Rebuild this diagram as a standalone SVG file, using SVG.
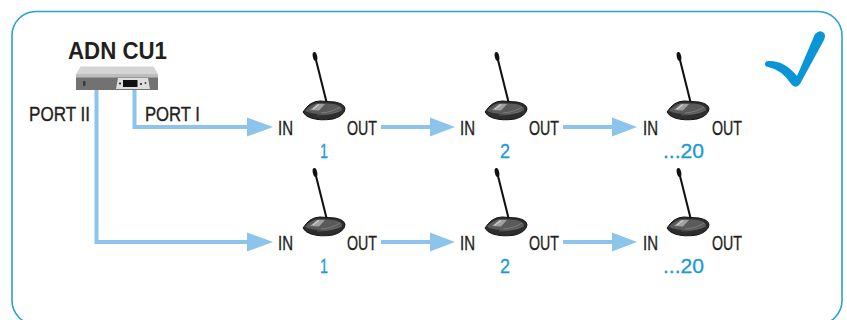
<svg xmlns="http://www.w3.org/2000/svg" xmlns:xlink="http://www.w3.org/1999/xlink" width="847" height="320" viewBox="0 0 847 320">
<style>
.lbl{font-family:"Liberation Sans",Arial,sans-serif;font-size:19.5px;fill:#231f20;stroke:#231f20;stroke-width:0.35}
.num{font-family:"Liberation Sans",Arial,sans-serif;font-size:20px;fill:#1b9ad7;stroke:#1b9ad7;stroke-width:0.3}
.title{font-family:"Liberation Sans",Arial,sans-serif;font-size:23px;font-weight:bold;fill:#231f20}
.wire{fill:none;stroke:#8cc4ec;stroke-width:4}
.head{fill:#8cc4ec}
</style>
<defs>
<g id="mic">
<line x1="0.5" y1="5" x2="12" y2="51" stroke="#111" stroke-width="2"/>
<ellipse cx="0" cy="3.5" rx="2.2" ry="4.6" transform="rotate(-12 0 3.5)" fill="#111"/>
<path d="M -12,59 Q -5,48 5,48 L 20,49 Q 30,51 30,56 Q 29,63 18,66 Q 5,68 -4,65 Q -10,63 -12,59 Z" fill="#2e2e2e" stroke="#111" stroke-width="1"/>
<path d="M -10,58 Q -4,50 5,50 L 19,51 Q 27,53 27,56 Q 24,60 14,61 Q 0,62 -10,58 Z" fill="#5a5a5a"/>
<polygon points="-5,57 2,51 10,51 4,57.5" fill="#a0a0a0"/>
<line x1="-2" y1="56" x2="4" y2="51.5" stroke="#eee" stroke-width="0.8"/>
<path d="M 6,60 Q 18,59 25,54" fill="none" stroke="#8a8a8a" stroke-width="0.7"/>
<path d="M 2,62 Q 16,62 27,57" fill="none" stroke="#777" stroke-width="0.6"/>
</g>
</defs>
<rect id="frame" x="12" y="11.5" width="830" height="313" rx="24" ry="24" fill="none" stroke="#2a9fd8" stroke-width="1.6"/>
<path id="check" d="M 768,61 Q 784,60 797,76 L 815,34 Q 820,29 824,33 Q 826,36 824,40 L 800,84 Q 796,89 792,85 Q 781,69 768,67 Q 764,66 765,63 Q 766,61 768,61 Z" fill="#0a96d6"/>
<g id="connectors">
<polyline class="wire" points="134.5,90 134.5,127 248,127"/>
<polygon class="head" points="247,117.5 273,127 247,136.5"/>
<polyline class="wire" points="96.5,90 96.5,242 248,242"/>
<polygon class="head" points="247,232.5 273,242 247,251.5"/>
<line class="wire" x1="381" y1="127" x2="431" y2="127"/>
<polygon class="head" points="430,117.5 455,127 430,136.5"/>
<line class="wire" x1="563" y1="127" x2="613" y2="127"/>
<polygon class="head" points="612,117.5 637,127 612,136.5"/>
<line class="wire" x1="381" y1="242" x2="431" y2="242"/>
<polygon class="head" points="430,232.5 455,242 430,251.5"/>
<line class="wire" x1="563" y1="242" x2="613" y2="242"/>
<polygon class="head" points="612,232.5 637,242 612,251.5"/>
<text class="lbl" x="29" y="121" textLength="61" lengthAdjust="spacingAndGlyphs">PORT II</text>
<text class="lbl" x="145" y="121" textLength="55" lengthAdjust="spacingAndGlyphs">PORT I</text>
</g>
<g id="cu1">
<text class="title" x="68" y="59" textLength="99" lengthAdjust="spacingAndGlyphs">ADN CU1</text>
<polygon points="81,66 153,66 158,74 76,74" fill="#d4d4d4"/>
<line x1="81" y1="66.5" x2="153" y2="66.5" stroke="#e8e8e8" stroke-width="1"/>
<rect x="76" y="74" width="82" height="16" fill="#727272"/>
<rect x="76" y="74" width="82" height="3.5" fill="#bdbdbd"/>
<polygon points="116,89 118,78 148,78 150,89" fill="#dedede"/>
<rect x="123" y="80" width="14.5" height="7" fill="#111"/>
<circle cx="120" cy="83.5" r="1.1" fill="#222"/>
<circle cx="141" cy="84" r="1.1" fill="#222"/>
<circle cx="145.5" cy="83" r="1" fill="#444"/>
<rect x="83" y="81" width="2.5" height="5" rx="1" fill="#3a3a3a"/>
</g>
<g id="dev1a"><use xlink:href="#mic" transform="translate(315,53)"/><text class="lbl" x="278" y="135" textLength="15" lengthAdjust="spacingAndGlyphs">IN</text><text class="lbl" x="347" y="135" textLength="30" lengthAdjust="spacingAndGlyphs">OUT</text><text class="num" x="320" y="158" textLength="8" lengthAdjust="spacingAndGlyphs">1</text></g>
<g id="dev2a"><use xlink:href="#mic" transform="translate(497,53)"/><text class="lbl" x="460" y="135" textLength="15" lengthAdjust="spacingAndGlyphs">IN</text><text class="lbl" x="529" y="135" textLength="30" lengthAdjust="spacingAndGlyphs">OUT</text><text class="num" x="500" y="158" textLength="10" lengthAdjust="spacingAndGlyphs">2</text></g>
<g id="dev3a"><use xlink:href="#mic" transform="translate(679,53)"/><text class="lbl" x="643" y="135" textLength="15" lengthAdjust="spacingAndGlyphs">IN</text><text class="lbl" x="712" y="135" textLength="30" lengthAdjust="spacingAndGlyphs">OUT</text><text class="num" x="663" y="158" textLength="41" lengthAdjust="spacingAndGlyphs">...20</text></g>
<g id="dev1b"><use xlink:href="#mic" transform="translate(315,169)"/><text class="lbl" x="278" y="250" textLength="15" lengthAdjust="spacingAndGlyphs">IN</text><text class="lbl" x="347" y="250" textLength="30" lengthAdjust="spacingAndGlyphs">OUT</text><text class="num" x="320" y="273" textLength="8" lengthAdjust="spacingAndGlyphs">1</text></g>
<g id="dev2b"><use xlink:href="#mic" transform="translate(497,169)"/><text class="lbl" x="460" y="250" textLength="15" lengthAdjust="spacingAndGlyphs">IN</text><text class="lbl" x="529" y="250" textLength="30" lengthAdjust="spacingAndGlyphs">OUT</text><text class="num" x="500" y="273" textLength="10" lengthAdjust="spacingAndGlyphs">2</text></g>
<g id="dev3b"><use xlink:href="#mic" transform="translate(679,169)"/><text class="lbl" x="643" y="250" textLength="15" lengthAdjust="spacingAndGlyphs">IN</text><text class="lbl" x="712" y="250" textLength="30" lengthAdjust="spacingAndGlyphs">OUT</text><text class="num" x="663" y="273" textLength="41" lengthAdjust="spacingAndGlyphs">...20</text></g>
</svg>
